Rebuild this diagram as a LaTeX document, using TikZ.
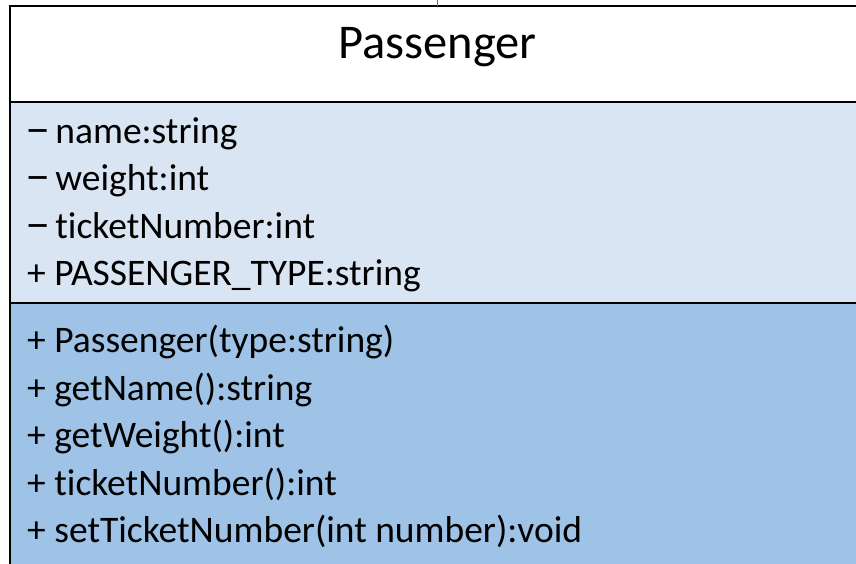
\documentclass[tikz,border=0pt]{standalone}
\usepackage{fontspec}
\usepackage{graphicx}
\setmainfont{Carlito}[Ligatures=NoCommon]
\definecolor{attrfill}{HTML}{DAE5F3}
\definecolor{opfill}{HTML}{9EC3E6}
\definecolor{stubline}{HTML}{5A6B8C}
% private-visibility marker: a widened en dash
\newcommand{\privmark}{\scalebox{1.35}[1.2]{–}\kern-3.5pt}
\begin{document}
\begin{tikzpicture}[x=1pt,y=-1pt,
  compartment/.style={draw=black,line width=2.2pt,inner sep=0pt,outer sep=0pt},
  member/.style={anchor=base west,inner sep=0pt,font=\fontsize{37.5}{44}\selectfont},
  classname/.style={anchor=base,inner sep=0pt,font=\fontsize{48.5}{56}\selectfont}]
\useasboundingbox (0,0) rectangle (856,563);
\begin{scope}
\clip (0,0) rectangle (856,563);
% class compartments: name, attributes, operations
\path[compartment,fill=white] (10,6) rectangle (865,102);
\path[compartment,fill=attrfill] (10,102) rectangle (865,303);
\path[compartment,fill=opfill] (10,303) rectangle (865,600);
\coordinate (top) at (437.5,6);
\coordinate (stub) at (437.5,-2);
\draw[stubline,line width=1.4pt] (top) -- (stub);
\end{scope}
% class name
\node[classname] (cname) at (437.5,58) {Passenger};
% attributes
\node[member] (a1) at (25,143) {\privmark{} name:string};
\node[member] (a2) at (25,190.5) {\privmark{} weight:int};
\node[member] (a3) at (25,238) {\privmark{} ticketNumber:int};
\node[member] (a4) at (27,285.5) {+ PASSENGER\_TYPE:string};
% operations
\node[member] (o1) at (27,352.7) {+ Passenger(type:string)};
\node[member] (o2) at (27,400.2) {+ getName():string};
\node[member] (o3) at (27,447.7) {+ getWeight():int};
\node[member] (o4) at (27,495.2) {+ ticketNumber():int};
\node[member] (o5) at (27,542.7) {+ setTicketNumber(int number):void};
\end{tikzpicture}
\end{document}
